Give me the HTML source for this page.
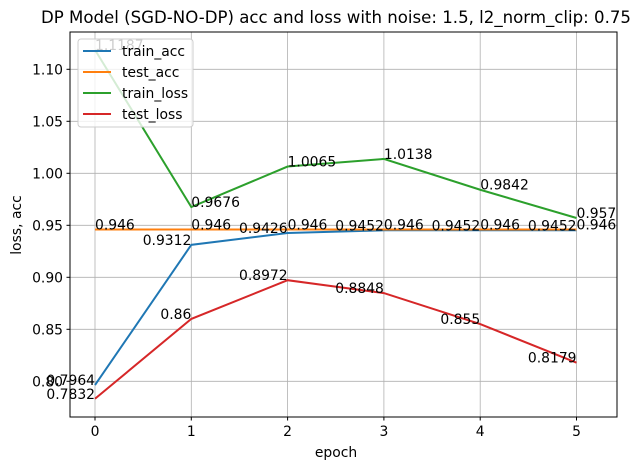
<!DOCTYPE html>
<html><head><meta charset="utf-8"><style>
body{margin:0;background:#fff;}
svg text{font-family:"DejaVu Sans","Liberation Sans",sans-serif;}
</style></head><body>
<svg id="chart" width="641" height="470" xmlns="http://www.w3.org/2000/svg">
<text x="336" y="23" text-anchor="middle" font-size="16.6">DP Model (SGD-NO-DP) acc and loss with noise: 1.5, l2_norm_clip: 0.75</text>
<g id="grid"></g>
<g id="series"></g>
<rect x="70" y="32" width="547" height="385" fill="none" stroke="#000" stroke-width="1"/>
<g id="ticks"></g>
<text x="336" y="457" text-anchor="middle" font-size="13.9">epoch</text>
<text transform="translate(21,225) rotate(-90)" text-anchor="middle" font-size="13.9">loss, acc</text>
<g id="legend"></g>
</svg>
<script>
const epochs=[0,1,2,3,4,5];
const trainAcc=[0.7964,0.9312,0.9426,0.9452,0.9452,0.9452];
const testAcc=[0.946,0.946,0.946,0.946,0.946,0.946];
const trainLoss=[1.1187,0.9676,1.0065,1.0138,0.9842,0.957];
const testLoss=[0.7832,0.86,0.8972,0.8848,0.855,0.8179];
const yTicks=[0.80,0.85,0.90,0.95,1.00,1.05,1.10];
const NS="http://www.w3.org/2000/svg";
const L=70,R=617,T=32,B=417;
function xs(e){return 95+e*96.3;}
function ys(v){return 173.3-(v-1)*1040;}
function mk(tag,attrs,parent){const el=document.createElementNS(NS,tag);for(const k in attrs)el.setAttribute(k,attrs[k]);parent.appendChild(el);return el;}
const grid=document.getElementById('grid'),ticks=document.getElementById('ticks'),series=document.getElementById('series'),legend=document.getElementById('legend');
epochs.forEach(e=>{
 const g=mk('line',{x1:xs(e),x2:xs(e),y1:T,y2:B,stroke:'#b0b0b0','stroke-width':0.8},grid);
 
 
 const tk=mk('line',{x1:xs(e),x2:xs(e),y1:B,y2:B+3.5,stroke:'#000'},ticks);
 
 
 const t=mk('text',{x:xs(e),y:B+19,'text-anchor':'middle','font-size':13.9},ticks);
 t.textContent=e;
 
 
});
yTicks.forEach(v=>{
 const g=mk('line',{x1:L,x2:R,y1:ys(v),y2:ys(v),stroke:'#b0b0b0','stroke-width':0.8},grid);
 
 
 const tk=mk('line',{x1:L-3.5,x2:L,y1:ys(v),y2:ys(v),stroke:'#000'},ticks);
 
 
 const t=mk('text',{x:L-7,y:ys(v)+5,'text-anchor':'end','font-size':13.9},ticks);
 t.textContent=v.toFixed(2);
 
 
});
const defs=[
 {name:'train_acc',data:trainAcc,color:'#1f77b4',anchor:'end'},
 {name:'test_acc',data:testAcc,color:'#ff7f0e',anchor:'start'},
 {name:'train_loss',data:trainLoss,color:'#2ca02c',anchor:'start'},
 {name:'test_loss',data:testLoss,color:'#d62728',anchor:'end'}
];
defs.forEach(s=>{
 const pts=s.data.map((v,i)=>xs(epochs[i])+','+ys(v)).join(' ');
 const pl=mk('polyline',{points:pts,fill:'none',stroke:s.color,'stroke-width':2},series);
 
 
});
defs.forEach(s=>{
 s.data.forEach((v,i)=>{
  const t=mk('text',{x:xs(epochs[i]),y:ys(v),'text-anchor':s.anchor,'font-size':13.9},series);
  t.textContent=String(v);
  
  
 });
});
const lb=mk('rect',{x:78,y:39,width:115,height:88,rx:3,fill:'#fff','fill-opacity':0.8,stroke:'#ccc'},legend);


defs.forEach((s,i)=>{
 const y=51+i*21;
 const ln=mk('line',{x1:83,x2:111,y1:y,y2:y,stroke:s.color,'stroke-width':2},legend);
 
 
 const t=mk('text',{x:122,y:y+5,'font-size':13.9},legend);
 t.textContent=s.name;
 
 
});
</script>
</body></html>
